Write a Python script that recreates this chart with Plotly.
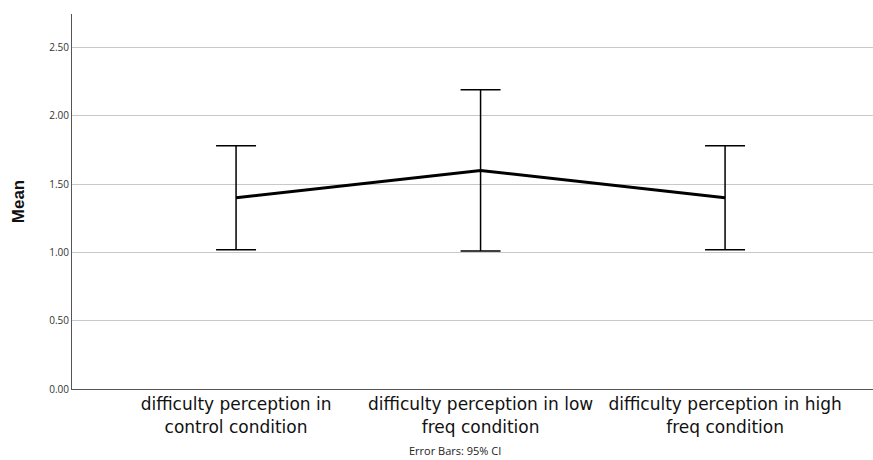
import plotly.graph_objects as go

categories = ["difficulty perception in<br>control condition",
              "difficulty perception in low<br>freq condition",
              "difficulty perception in high<br>freq condition"]
means = [1.40, 1.60, 1.40]
ci_upper = [1.78, 2.19, 1.78]
ci_lower = [1.02, 1.01, 1.02]
y_ticks = [0.0, 0.5, 1.0, 1.5, 2.0, 2.5]
y_tick_labels = ["0.00", "0.50", "1.00", "1.50", "2.00", "2.50"]

xpos = list(range(len(categories)))
err_plus = [u - m for u, m in zip(ci_upper, means)]
err_minus = [m - l for m, l in zip(means, ci_lower)]

fig = go.Figure()
fig.add_trace(go.Scatter(
    x=xpos, y=means, mode="lines",
    line=dict(color="black", width=3),
    error_y=dict(type="data", symmetric=False, array=err_plus, arrayminus=err_minus,
                 color="black", thickness=1.5, width=20),
    showlegend=False, hoverinfo="skip"))

fig.update_layout(
    width=873, height=460,
    margin=dict(l=72, r=0, t=14, b=71),
    paper_bgcolor="white", plot_bgcolor="white",
    font=dict(family="Open Sans", color="#222"),
    xaxis=dict(range=[-0.671, 2.605], tickmode="array", tickvals=xpos, ticktext=categories,
               showgrid=False, zeroline=False, showline=True, linecolor="#555", linewidth=1,
               tickfont=dict(family="DejaVu Sans", size=17, color="#111"), ticks=""),
    yaxis=dict(range=[0, 2.745], tickmode="array", tickvals=y_ticks, ticktext=y_tick_labels,
               showgrid=True, gridcolor="#c8c8c8", gridwidth=1, zeroline=False,
               showline=True, linecolor="#555", linewidth=1, ticks="",
               tickfont=dict(size=10, color="#333"),
               title=dict(text="<b>Mean</b>", font=dict(family="Liberation Sans", size=17, color="#111"), standoff=20)),
    annotations=[dict(text="Error Bars: 95% CI", xref="paper", yref="paper",
                      x=(455 - 72) / 801, y=-61 / 375, xanchor="center", yanchor="middle",
                      showarrow=False, font=dict(size=11, color="#222"))],
)

fig.write_html("out.html")
